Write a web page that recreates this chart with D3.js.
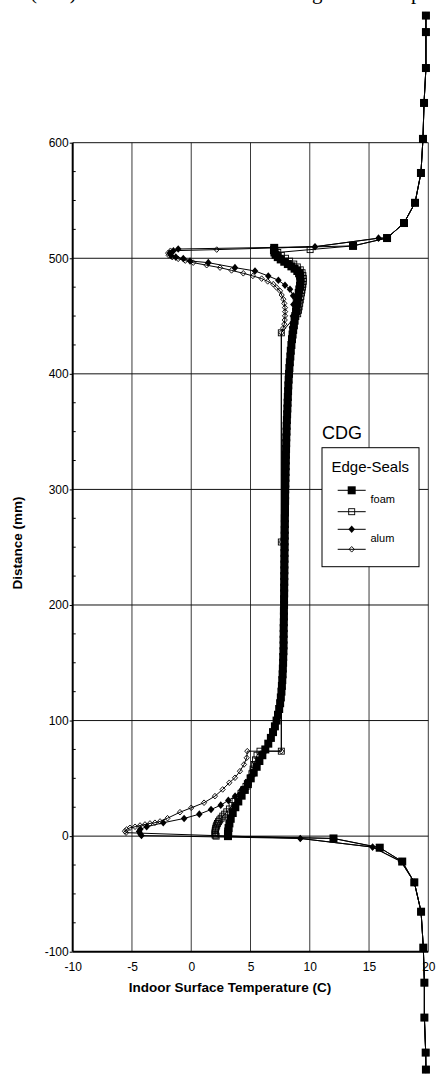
<!DOCTYPE html>
<html><head><meta charset="utf-8">
<script src="https://cdn.jsdelivr.net/npm/d3@7/dist/d3.min.js"></script>
<style>
body{margin:0;background:#fff;}
svg{display:block;}
</style></head>
<body><svg id="c" width="436" height="1074"></svg>
<script>
// ---------- data ----------
const xTicks = [-10,-5,0,5,10,15,20];
const yTicks = [-100,0,100,200,300,400,500,600];
const legendTitle = "CDG";
const legendHeader = "Edge-Seals";
const legendLabels = ["foam","alum"];

// warm wall points above the glazing (outer → edge)
const wallTop = [[19.8,710],[19.8,695.7],[19.8,664.6],[19.64,634.4],[19.55,603.3],[19.38,573.8],[18.88,548],[17.95,530.5],[16.52,517.5]];
// warm wall points below the glazing (edge → outer)
const wallBottom = [[18.82,-40],[19.39,-65.4],[19.58,-96.5],[19.67,-126.8],[19.67,-157],[19.78,-187.3],[19.8,-202]];

const foamFilledEdge = [[13.65,510.7]];
const foamFilledGlass = [[7.0,509],[6.98,507],[7.02,505],[7.12,503],[7.3,501],[7.55,499],[7.85,497],[8.15,495],[8.45,493],[8.72,491],[8.95,489],[9.1,487],[9.18,485],[9.22,482],[9.22,479],[9.18,476],[9.12,473],[9.07,470],[9.02,466],[8.96,462],[8.9,458],[8.84,454],[8.78,450],[8.72,446],[8.66,442],[8.6,438],[8.55,434],[8.5,430],[8.45,425],[8.4,420],[8.36,415],[8.32,410],[8.28,405],[8.25,400],[8.22,395],[8.19,390],[8.17,385],[8.15,380],[8.13,375],[8.11,370],[8.09,365],[8.07,360],[8.05,355],[8.04,350],[8.02,345],[8.01,340],[8.0,335],[7.99,330],[7.98,325],[7.97,320],[7.96,315],[7.95,310],[7.94,305],[7.93,300],[7.92,295],[7.92,290],[7.91,285],[7.91,280],[7.9,275],[7.9,270],[7.89,265],[7.89,260],[7.88,255],[7.88,250],[7.87,245],[7.87,240],[7.86,235],[7.86,230],[7.85,225],[7.85,220],[7.84,215],[7.84,210],[7.83,205],[7.83,200],[7.82,195],[7.82,190],[7.81,185],[7.8,180],[7.8,175],[7.79,170],[7.79,165],[7.78,160],[7.76,155],[7.75,150],[7.73,145],[7.71,140],[7.68,135],[7.65,130],[7.61,125],[7.56,120],[7.5,115],[7.42,110],[7.32,105],[7.2,100],[7.06,95],[6.9,90],[6.72,85],[6.5,80],[6.25,75],[6.0,70],[5.75,65],[5.52,60],[5.27,55],[5.02,50],[4.78,45],[4.52,40],[4.25,35],[3.97,30],[3.72,25],[3.5,20],[3.33,15],[3.22,11],[3.15,7],[3.12,4],[3.1,2],[3.1,0]];
const foamBottomEdge = [[12,-2],[15.9,-10],[17.8,-22]];

const foamOpenEdge = [[13.65,510.7],[10.03,507.5]];
const foamOpenGlass = [[7.3,505],[7.6,502.5],[7.95,500],[8.3,497.5],[8.65,495],[8.95,492.5],[9.2,490],[9.35,487.5],[9.42,485],[9.45,482.5],[9.45,480],[9.42,477.5],[9.38,475],[9.34,472.5],[9.3,470],[9.25,467],[9.2,464],[9.15,461],[9.1,458],[9.05,455],[8.98,452],[7.6,435.5],[7.6,254.5],[7.6,73.5],[5.8,73.5],[5.55,70],[5.42,66],[5.32,62],[5.22,58],[5.12,54],[4.98,50],[4.82,46.5],[4.62,43],[4.42,40],[4.2,37],[3.97,33.5],[3.7,30],[3.45,26.5],[3.22,23.5],[3.0,21],[2.82,19],[2.66,17.3],[2.52,15.5],[2.4,14],[2.3,12.5],[2.22,11],[2.15,9.5],[2.1,8],[2.06,6.5],[2.03,5],[2.01,3.5],[2.0,2],[2.02,0.8],[2.1,0]];

const alumEdgeTop = [[15.8,517.4],[10.44,510]];
const alumFilledGlass = [[-1.1,508],[-1.5,506.5],[-1.8,504.5],[-1.7,502.5],[-1.3,501],[-0.67,499.7],[-0.1,497.7],[1.44,496.2],[3.69,491.9],[5.38,489],[6.5,484.7],[7.35,481],[7.91,476.7],[8.33,473.2],[8.6,467.5],[8.62,460],[8.58,450],[8.5,440],[8.42,430],[8.35,420],[8.2,400],[8.05,360],[7.95,320],[7.9,280],[7.86,240],[7.83,200],[7.78,160],[7.7,140],[7.55,120],[7.3,105],[7.0,92],[6.6,82],[6.1,72],[5.6,62],[5.1,53],[4.7,46],[4.26,40.4],[3.7,34.6],[3.13,30.9],[2.49,26.8],[1.67,23],[0.68,19],[-0.6,15.3],[-2.36,11.6],[-3.76,8.1],[-4.3,6],[-4.4,4],[-4.3,2],[-4.2,0.5]];
const alumOpenGlass = [[2.15,507.5],[-1.75,506.5],[-1.95,504.5],[-1.9,502.5],[-1.6,501],[-1.1,499.5],[-0.5,498],[0.17,496.2],[1.3,494],[2.43,491.9],[3.4,489.5],[4.39,487],[5.2,484.7],[5.94,482.4],[6.45,480],[6.92,477.6],[7.2,474.7],[7.49,471.8],[7.63,468.2],[7.77,464.6],[7.85,461],[7.91,457.3],[7.92,453.8],[7.91,450.2],[7.89,446.6],[7.85,443],[7.75,439.5],[7.6,435.5],[7.6,254.5],[7.6,73.5],[4.73,73.5],[4.68,67.8],[4.45,62],[4.11,56.2],[3.69,50.5],[3.21,46.2],[2.65,40.4],[2.0,34.6],[1.08,28.9],[0.0,24.5],[-0.95,20.7],[-2.0,15.5],[-2.63,12.7],[-3.06,11.6],[-3.48,11],[-3.9,10.1],[-4.32,9.2],[-4.74,8.1],[-5.17,7.2],[-5.45,5.8],[-5.59,4.3],[-5.5,3]];
const alumBottomEdge = [[9.2,-2],[15.3,-9.5],[17.7,-22]];

const foamFilled = [...wallTop, ...foamFilledEdge, ...foamFilledGlass, ...foamBottomEdge, ...wallBottom];
const foamOpen = [...wallTop, ...foamOpenEdge, ...foamOpenGlass, ...foamBottomEdge, ...wallBottom];
const alumFilled = [...wallTop, ...alumEdgeTop, ...alumFilledGlass, ...alumBottomEdge, ...wallBottom];
const alumOpen = [...wallTop, ...alumEdgeTop, ...alumOpenGlass, ...alumBottomEdge, ...wallBottom];

// ---------- chart ----------
const svg = d3.select("#c");
const x = d3.scaleLinear().domain([-10,20]).range([72.7,428.3]);
const y = d3.scaleLinear().domain([-100,600]).range([951.7,142.7]);
const FONT = "Arial, 'Liberation Sans', sans-serif";
const fmt = d => String(d);

// caption remnants at very top (cut off by the image edge, as in the reference)
const SERIF = "'Liberation Serif','Times New Roman',serif";
svg.append("text").attr("x",30).attr("y",-1).attr("font-family",SERIF).attr("font-size",21).text("(mm)");
svg.append("text").attr("x",312).attr("y",-1).attr("font-family",SERIF).attr("font-size",21).text("g");
svg.append("text").attr("x",411).attr("y",-1).attr("font-family",SERIF).attr("font-size",21).text("p");

// grid
const grid = svg.append("g").attr("stroke","#3a3a3a").attr("stroke-width",1);
xTicks.filter(d=>d>-10).forEach(d=>{
  grid.append("line").attr("x1",x(d)).attr("x2",x(d)).attr("y1",y(600)).attr("y2",y(-100));
});
yTicks.filter(d=>d>-100).forEach(d=>{
  grid.append("line").attr("x1",x(-10)).attr("x2",x(20)).attr("y1",y(d)).attr("y2",y(d)).attr("stroke","#111");
});

// axes
const yAxis = svg.append("g").attr("transform",`translate(${x(-10)},0)`)
  .call(d3.axisLeft(y).tickValues(yTicks).tickSize(3).tickPadding(1).tickFormat(fmt));
yAxis.select(".domain").attr("stroke","#000").attr("stroke-width",2).attr("d",`M0,${y(600)}V${y(-100)}`);
yAxis.selectAll("text").attr("font-family",FONT).attr("font-size",12).attr("fill","#000");
const yMinor = d3.range(-75,600,25).filter(d=>d%100!==0);
svg.append("g").selectAll("line").data(yMinor).join("line")
  .attr("x1",x(-10)).attr("x2",x(-10)+3).attr("y1",d=>y(d)).attr("y2",d=>y(d)).attr("stroke","#000");

const xAxis = svg.append("g").attr("transform",`translate(0,${y(-100)})`)
  .call(d3.axisBottom(x).tickValues(xTicks).tickSize(0).tickPadding(11).tickFormat(fmt));
xAxis.select(".domain").attr("stroke","#000").attr("stroke-width",2).attr("d",`M${x(-10)},0H${x(20)}`);
xAxis.selectAll("text").attr("font-family",FONT).attr("font-size",12).attr("fill","#000");

svg.append("text").attr("x",230).attr("y",992).attr("text-anchor","middle")
  .attr("font-family",FONT).attr("font-weight","bold").attr("font-size",13.5).text("Indoor Surface Temperature  (C)");
svg.append("text").attr("transform","translate(22,543) rotate(-90)").attr("text-anchor","middle")
  .attr("font-family",FONT).attr("font-weight","bold").attr("font-size",13.5).text("Distance (mm)");

// markers
function marker(g, kind, cx, cy){
  if(kind==="sqF"){ g.append("rect").attr("x",cx-4).attr("y",cy-4).attr("width",8).attr("height",8).attr("fill","#000"); }
  else if(kind==="sqO"){ g.append("rect").attr("x",cx-3).attr("y",cy-3).attr("width",6).attr("height",6).attr("fill","none").attr("stroke","#000").attr("stroke-width",0.9); }
  else if(kind==="diF"){ g.append("path").attr("d",`M${cx},${cy-3.8}L${cx+3.3},${cy}L${cx},${cy+3.8}L${cx-3.3},${cy}Z`).attr("fill","#000"); }
  else { g.append("path").attr("d",`M${cx},${cy-2.8}L${cx+2.6},${cy}L${cx},${cy+2.8}L${cx-2.6},${cy}Z`).attr("fill","none").attr("stroke","#000").attr("stroke-width",0.9); }
}
const line = d3.line().x(d=>x(d[0])).y(d=>y(d[1]));
const series = [
  {data:alumOpen, kind:"diO"},
  {data:alumFilled, kind:"diF"},
  {data:foamOpen, kind:"sqO"},
  {data:foamFilled, kind:"sqF"}
];
series.forEach(s=>{
  const g = svg.append("g");
  g.append("path").datum(s.data).attr("d",line).attr("fill","none").attr("stroke","#000").attr("stroke-width",1);
  s.data.forEach(d=>marker(g,s.kind,x(d[0]),y(d[1])));
});

// legend
svg.append("text").attr("x",322).attr("y",439).attr("font-family",FONT).attr("font-size",18).text(legendTitle);
svg.append("rect").attr("x",322).attr("y",447.7).attr("width",97).attr("height",119).attr("fill","#fff").attr("stroke","#000").attr("stroke-width",1);
svg.append("text").attr("x",331.5).attr("y",471.7).attr("font-family",FONT).attr("font-size",15).text(legendHeader);
const legRows = [{kind:"sqF",yy:490.3},{kind:"sqO",yy:511.7},{kind:"diF",yy:529.3},{kind:"diO",yy:549.3}];
legRows.forEach(r=>{
  const g = svg.append("g");
  g.append("line").attr("x1",337.7).attr("x2",365.7).attr("y1",r.yy).attr("y2",r.yy).attr("stroke","#000");
  marker(g,r.kind,351.7,r.yy);
});
svg.append("text").attr("x",370.5).attr("y",502.5).attr("font-family",FONT).attr("font-size",11).text(legendLabels[0]);
svg.append("text").attr("x",370.5).attr("y",541.5).attr("font-family",FONT).attr("font-size",11).text(legendLabels[1]);
</script></body></html>
